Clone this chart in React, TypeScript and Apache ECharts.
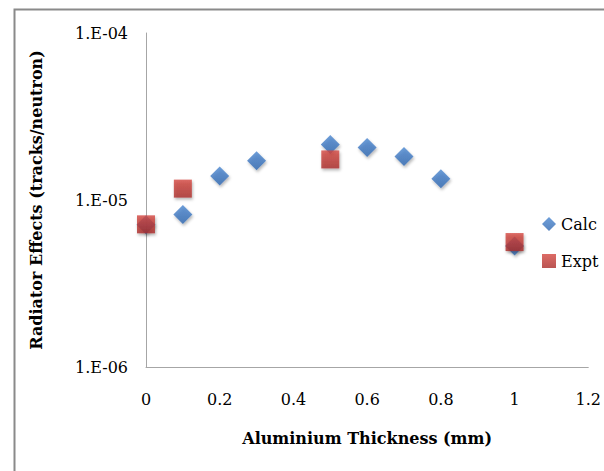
import React, { useEffect, useRef } from "react";
import * as echarts from "echarts";

const calcX = [0, 0.1, 0.2, 0.3, 0.5, 0.6, 0.7, 0.8, 1.0];
const calcY = [7.1e-6, 8.2e-6, 1.39e-5, 1.72e-5, 2.15e-5, 2.06e-5, 1.82e-5, 1.34e-5, 5.3e-6];
const exptX = [0, 0.1, 0.5, 1.0];
const exptY = [7.15e-6, 1.17e-5, 1.75e-5, 5.6e-6];

const FONT = "DejaVu Serif";

export default function App() {
  const ref = useRef<HTMLDivElement>(null);
  useEffect(() => {
    if (!ref.current) return;
    const chart = echarts.init(ref.current, undefined, { renderer: "svg" });
    const shadow = {
      shadowBlur: 3,
      shadowColor: "rgba(0,0,0,0.35)",
      shadowOffsetX: 1,
      shadowOffsetY: 2,
    };
    chart.setOption({
      animation: false,
      backgroundColor: "#ffffff",
      graphic: [
        {
          type: "rect",
          left: 12,
          top: 7,
          shape: { width: 700, height: 700 },
          style: { fill: "none", stroke: "#8a8a8a", lineWidth: 2 },
          silent: true,
        },
      ],
      grid: { left: 146, right: 12, top: 33, bottom: 104 },
      legend: {
        orient: "vertical",
        left: 537,
        top: 211,
        itemWidth: 14,
        itemHeight: 14,
        itemGap: 21,
        textStyle: { fontFamily: FONT, fontSize: 16, color: "#000" },
        data: [
          { name: "Calc", icon: "diamond" },
          { name: "Expt", icon: "rect" },
        ],
      },
      xAxis: {
        type: "value",
        min: 0,
        max: 1.2,
        interval: 0.2,
        name: "Aluminium Thickness (mm)",
        nameLocation: "middle",
        nameGap: 63,
        nameTextStyle: { fontFamily: FONT, fontSize: 16, fontWeight: "bold", color: "#000" },
        axisLine: { lineStyle: { color: "#a6a6a6", width: 1 } },
        axisTick: { show: false },
        splitLine: { show: false },
        axisLabel: {
          fontFamily: FONT,
          fontSize: 16,
          color: "#000",
          margin: 24,
          formatter: (v: number) => String(Math.round(v * 10) / 10),
        },
      },
      yAxis: {
        type: "log",
        logBase: 10,
        min: 1e-6,
        max: 1e-4,
        name: "Radiator Effects (tracks/neutron)",
        nameLocation: "middle",
        nameGap: 102,
        nameTextStyle: { fontFamily: FONT, fontSize: 16, fontWeight: "bold", color: "#000" },
        axisLine: { show: true, lineStyle: { color: "#a6a6a6", width: 1 } },
        axisTick: { show: false },
        splitLine: { show: false },
        minorTick: { show: false },
        axisLabel: {
          fontFamily: FONT,
          fontSize: 16,
          color: "#000",
          margin: 18,
          formatter: (v: number) => {
            const e = Math.round(-Math.log10(v));
            return "1.E-" + (e < 10 ? "0" + e : String(e));
          },
        },
      },
      series: [
        {
          name: "Calc",
          type: "scatter",
          symbol: "diamond",
          symbolSize: 19,
          data: calcX.map((x, i) => [x, calcY[i]]),
          itemStyle: {
            color: new echarts.graphic.LinearGradient(0, 0, 0, 1, [
              { offset: 0, color: "#4a86d0" },
              { offset: 1, color: "#2f67b0" },
            ]),
            ...shadow,
          },
        },
        {
          name: "Expt",
          type: "scatter",
          symbol: "rect",
          symbolSize: 18,
          data: exptX.map((x, i) => [x, exptY[i]]),
          itemStyle: {
            color: new echarts.graphic.LinearGradient(0, 0, 0, 1, [
              { offset: 0, color: "#d4463f" },
              { offset: 1, color: "#a92b28" },
            ]),
            ...shadow,
          },
        },
      ],
    });
    return () => chart.dispose();
  }, []);
  return (
    <div
      ref={ref}
      style={{ position: "fixed", left: 0, top: 0, width: 604, height: 471 }}
    />
  );
}
